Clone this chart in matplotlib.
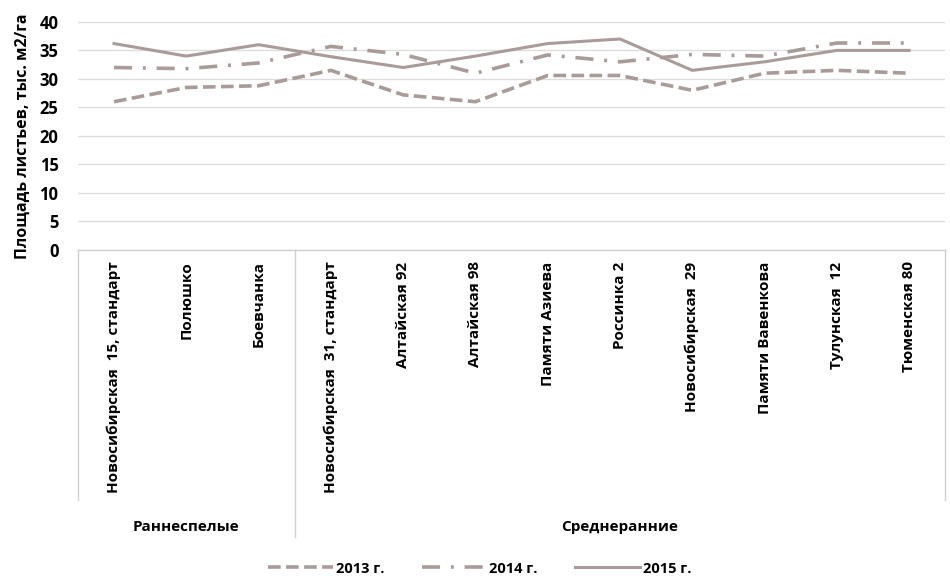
import matplotlib
matplotlib.use("Agg")
import matplotlib.pyplot as plt
import matplotlib.transforms as mtransforms

plt.rcParams['font.family'] = ['Open Sans', 'DejaVu Sans']

varieties = ["Новосибирская  15, стандарт", "Полюшко", "Боевчанка",
             "Новосибирская  31, стандарт", "Алтайская 92", "Алтайская 98",
             "Памяти Азиева", "Россинка 2", "Новосибирская  29",
             "Памяти Вавенкова", "Тулунская  12", "Тюменская 80"]
groups = ["Раннеспелые", "Среднеранние"]
group_sizes = [3, 9]

y2013 = [26.0, 28.5, 28.8, 31.5, 27.2, 26.0, 30.6, 30.6, 28.0, 31.0, 31.5, 31.0]
y2014 = [32.0, 31.8, 32.8, 35.7, 34.3, 31.0, 34.2, 33.0, 34.3, 34.0, 36.3, 36.3]
y2015 = [36.2, 34.0, 36.0, 33.9, 32.0, 34.0, 36.2, 37.0, 31.5, 33.0, 35.0, 35.0]

col = "#a99c98"

fig = plt.figure(figsize=(9.5, 5.76), dpi=100)
ax = fig.add_axes([0.082, 0.566, 0.913, 0.396])

x = list(range(len(varieties)))
ax.plot(x, y2013, color=col, lw=2.6, dashes=(3.5, 1.5), label="2013 г.")
ax.plot(x, y2014, color=col, lw=2.6, dashes=(5, 3, 0.8, 3), label="2014 г.")
ax.plot(x, y2015, color=col, lw=2.2, label="2015 г.")

ax.set_xlim(-0.5, len(varieties) - 0.5)
ax.set_ylim(0, 40)
ax.set_yticks(range(0, 41, 5))
ax.tick_params(axis='y', length=0, labelsize=12, pad=14)
for t in ax.get_yticklabels():
    t.set_fontweight('bold')
ax.yaxis.grid(True, color="#dcdcdc", lw=0.9)
ax.set_axisbelow(True)
for s in ["top", "right", "left"]:
    ax.spines[s].set_visible(False)
ax.spines["bottom"].set_color("#c8c8c8")

ax.set_ylabel("Площадь листьев, тыс. м2/га", fontsize=11.5, fontweight='bold', labelpad=6)

# category labels, rotated under the axis
ax.set_xticks([])
trans = mtransforms.blended_transform_factory(ax.transData, ax.transAxes)
for i, name in enumerate(varieties):
    ax.text(i, -0.05, name, rotation=90, ha='center', va='top', fontsize=11,
            fontweight='bold', transform=trans)

# group separators and group names
start = 0
bounds = [-0.5]
for n in group_sizes:
    start += n
    bounds.append(start - 0.5)
for j, b in enumerate(bounds):
    low = -1.26 if 0 < j < len(bounds) - 1 else -1.096
    ax.plot([b, b], [0, low], color="#d0d0d0", lw=1, transform=trans, clip_on=False)
for j, g in enumerate(groups):
    mid = (bounds[j] + bounds[j + 1]) / 2
    ax.text(mid, -1.215, g, ha='center', va='center', fontsize=11,
            fontweight='bold', transform=trans)

leg = fig.legend(loc='lower center', bbox_to_anchor=(0.505, -0.022), ncol=3, frameon=False,
                 fontsize=10.5, handlelength=4.4, columnspacing=2.6, handletextpad=0.2)
for t in leg.get_texts():
    t.set_fontweight('bold')

fig.savefig("out.png", dpi=100)
